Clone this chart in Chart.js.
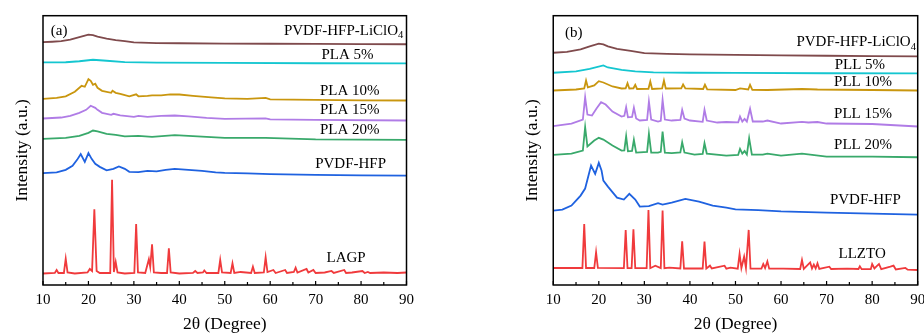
<!DOCTYPE html>
<html>
<head>
<meta charset="utf-8">
<script src="https://cdn.jsdelivr.net/npm/chart.js@4"></script>
<style>
  html, body { margin: 0; padding: 0; background: #fff; overflow: hidden; }
  #wrap { position: relative; width: 924px; height: 333px; }
  canvas { position: absolute; top: 0; }
</style>
</head>
<body>
<div id="wrap">
  <canvas id="chartA" width="420" height="333" style="left:0"></canvas>
  <canvas id="chartB" width="510" height="333" style="left:430px"></canvas>
</div>
<script>
// x axis: 2theta in degrees
const xTicks = [10, 20, 30, 40, 50, 60, 70, 80, 90];
const minorTicks = [15, 25, 35, 45, 55, 65, 75, 85];

// ---- panel (a) ----  [2theta, intensity a.u.]
const aLiClO4 = [[10,242.7],[12,243],[14,243.5],[16,245],[18,247.5],[20,250],[21,249.5],[22,248],[24,246],[26,244.5],[28,243.5],[30,242.3],[35,241.7],[40,241.5],[50,241.2],[60,241],[70,240.8],[80,240.7],[90,240.5]];
const aPla5 = [[10,222.3],[15,222.5],[18,223.5],[21,225],[24,224],[28,222.7],[35,222.2],[50,221.8],[70,221.5],[90,221.3]];
const aPla10 = [[10,186],[13,187],[15,188.5],[17,193],[18.5,199],[19.2,198],[20,205.7],[20.5,204],[21,200],[21.5,201],[22,197],[23,194],[25,192],[25.3,194],[26,192],[27,191],[29,188.5],[30.5,190.5],[31,188.5],[33,189],[34,189.5],[36,189.5],[38,190.5],[40,190.3],[43,189],[47,187.5],[50,186.5],[55,186],[59,187],[60,185.5],[70,185],[80,184.5],[90,184.3]];
const aPla15 = [[10,166.3],[14,167.3],[16,169],[18,172],[19.5,175],[20.5,179],[21.5,177],[22,175],[23,172],[25,170],[25.5,171],[27,169.5],[30,168],[31,169],[33,168],[36,169],[39,169.3],[42,168.5],[46,167],[50,166],[59,166.5],[60,165.5],[70,165],[90,164.3]];
const aPla20 = [[10,146],[15,147],[18,149],[20,152],[21,154.3],[22,153.5],[24,151],[26,150],[28,148.5],[31,149],[34,148],[39,149.7],[44,148.5],[50,147],[59,147],[70,145.5],[90,145]];
const aPvdf = [[10,111.7],[13,112.5],[15,115],[16.5,119],[17.5,125],[18.3,130.7],[19.2,123],[20,131.7],[20.7,126],[21.5,121],[22.5,118],[24,114.5],[25.5,116],[26.7,118.5],[28,116],[29,113],[31,112.7],[33,114],[35,113.5],[37,115],[39,116],[42,115],[45,114],[48,112.5],[50,112],[55,111.5],[60,110.7],[70,110],[80,109.5],[90,109.3]];
const aLagp = [[10,11.5],[12.6,12],[13,15],[13.4,12],[14.6,12],[15,26.3],[15.4,12.5],[17,11.5],[19.8,12.5],[20.3,16],[20.8,14],[21.3,75.7],[21.8,14],[22.5,12],[24.8,12],[25.2,105],[25.6,13],[26,23],[26.4,12.5],[28,11.5],[30.1,12],[30.5,61],[30.9,12.5],[32.5,12],[33.3,25.7],[33.6,18],[34,40.7],[34.4,12.5],[36,12],[37.3,12],[37.7,36.7],[38.1,12.5],[40,11.5],[43,12],[43.5,14],[44,12],[45.2,12.5],[45.5,14.5],[46,12],[48.6,12],[49,25],[49.4,12.5],[51.3,12],[51.7,21.7],[52.1,12],[53.5,13],[55.8,12],[56.2,18.3],[56.6,12],[58.6,12.5],[59,27.7],[59.4,13],[60.7,15],[61.2,12],[63.3,15],[63.7,12],[65.2,13],[65.6,17.3],[66,12.5],[68,16],[68.4,12.5],[69.5,15],[70,12],[72,12.5],[73.5,14],[74,12],[76.3,15],[76.7,12],[78,12.5],[80.3,14],[80.8,12],[81.5,13],[82,12],[85,12.5],[88,12],[90,12.5]];

// ---- panel (b) ----
const bLiClO4 = [[10,232],[13,232.8],[16,235.3],[18,238.3],[20,241],[21,240.3],[22,238.3],[24,235.8],[27,233.8],[30,231.6],[35,230.8],[40,230.3],[50,229.8],[60,229.3],[70,229],[80,228.6],[90,228.3]];
const bPll5 = [[10,212],[15,213.3],[18,215.8],[21,219.3],[22,217.3],[25,214.8],[28,213.3],[32,212.3],[40,212],[50,211.8],[70,211.5],[90,211.3]];
const bPll10 = [[10,194.3],[15,195.3],[16.8,196.3],[17.2,204.3],[17.6,197.3],[19,199.3],[20,203.6],[21,202.3],[23,198.3],[25,196.3],[25.9,196.5],[26.3,201.6],[26.7,196.3],[27.6,196.5],[28,200],[28.4,195.8],[30.9,196],[31.3,203.3],[31.7,195.8],[33.9,196.3],[34.3,204.3],[34.7,196.3],[38.1,196.5],[38.5,200.3],[39,196.3],[42.9,195.8],[43.3,200],[43.8,195.3],[50,194.8],[51,196.3],[52.8,195.3],[53.2,200],[53.7,195],[57,194.8],[64.6,195.8],[68,195.3],[80,194.8],[90,194.3]];
const bPll15 = [[10,158.6],[14,161.3],[16.5,165.3],[17,187.6],[17.5,170.3],[18.5,169.3],[19.5,176.3],[20.5,182.6],[21.5,180.3],[23,173.3],[25,168.3],[25.6,169],[26,177.6],[26.4,167.5],[27.3,168],[27.7,177],[28.2,166.3],[29,164.3],[30.6,165],[31,183.3],[31.5,165.3],[33,163.3],[33.6,164],[34,185],[34.5,165.3],[36,164.3],[37.9,165],[38.3,175],[38.8,166.3],[40,164.3],[42.8,163],[43.2,175],[43.7,164.3],[46,162.3],[48,162.8],[50.6,162.5],[51,168.3],[51.5,163.3],[52,166],[52.5,163.3],[53.2,176],[53.8,163.3],[56,163.3],[57,164.3],[60,161.3],[64.6,163],[66,162.3],[68,162.8],[70,161.3],[80,160.8],[90,158.3]];
const bPll20 = [[10,130],[14,131.3],[16.5,134.3],[17,157.6],[17.5,138.3],[19,144.3],[20,147],[21,145.3],[23,139.3],[25,134.3],[25.6,134.5],[26,148.6],[26.4,133.5],[27.3,134],[27.7,145],[28.2,132.3],[29,132.5],[30.6,133],[31,151],[31.5,132.3],[33,132.3],[33.6,133],[34,153.3],[34.5,132.3],[36,131.8],[37.9,132.5],[38.3,142.6],[38.8,132.3],[41,130.3],[42.8,131],[43.2,141.6],[43.7,131.3],[48,129.3],[50.6,130],[51,136],[51.5,131.3],[52,133.8],[52.5,130.3],[53,146.6],[53.6,130.3],[56,130.3],[57,131.3],[60,129.3],[64.6,131.3],[70,128.3],[80,128.3],[90,127.6]];
const bPvdf = [[10,74.3],[12,75.3],[14,79.3],[15,84.3],[16,89.3],[17,96.3],[18.3,119.3],[19.2,111],[20,122],[20.6,114.3],[21,104.3],[22,98.3],[24,87.3],[25.5,85.3],[26.7,91],[28,85.3],[29,78.3],[31,78.8],[33,81.8],[34,80.3],[36,82.3],[39,86],[42,83.3],[45,79.3],[48,77.3],[50,75.6],[55,74.8],[60,73.6],[70,72.3],[80,71.3],[90,70.3]];
const bLlzto = [[10,17],[16.4,17],[16.8,61],[17.2,17],[19,17],[19.4,32.6],[19.8,17],[25.5,16.8],[25.9,55],[26.3,16.8],[27.2,16.8],[27.6,55.6],[28,16.8],[30.5,16.8],[30.9,75],[31.3,16.8],[32.4,19.3],[33.6,16.8],[34,74.3],[34.4,16.8],[35.5,17.3],[37.9,16.5],[38.3,43.6],[38.7,16.5],[42.8,16.5],[43.2,43.3],[43.6,16.5],[44.4,19.3],[44.8,16.5],[47.6,19.3],[48,16.3],[48.9,17.3],[50.5,16.3],[50.9,31],[51.3,17],[51.9,28.3],[52.3,17],[52.9,55],[53.3,16.3],[55.7,16.3],[56.1,21],[56.5,17],[57,23.6],[57.4,16.3],[60.5,16.3],[64.2,16],[64.6,25],[65,16],[66.4,22.6],[66.8,16.5],[67.2,20.3],[67.6,16.5],[68,21.6],[68.4,16],[70.6,18.3],[71,16],[74.5,16.3],[77,16],[77.3,18.6],[77.7,15.8],[79.7,15.8],[80,21],[80.5,16.5],[81.5,21],[82,15.8],[84,18.3],[84.7,19.3],[85.2,15.5],[87.3,17],[87.8,15.3],[90,15]];

const seriesColors = {
  liclo4: "#7f4a4c",
  c5: "#14c6d0",
  c10: "#c9960e",
  c15: "#b07ce6",
  c20: "#39a96b",
  pvdf: "#1f62e0",
  filler: "#f03a3c"
};

const labelsA = [
  { text: "PVDF-HFP-LiClO", sub: "4", x: 89.3, y: 254, align: "right" },
  { text: "PLA 5%", x: 77, y: 230, align: "center" },
  { text: "PLA 10%", x: 77.5, y: 194, align: "center" },
  { text: "PLA 15%", x: 77.5, y: 174.3, align: "center" },
  { text: "PLA 20%", x: 77.5, y: 155, align: "center" },
  { text: "PVDF-HFP", x: 77.7, y: 120.7, align: "center" },
  { text: "LAGP", x: 76.7, y: 27.3, align: "center" },
  { text: "(a)", x: 11.7, y: 253.3, align: "left" }
];
const labelsB = [
  { text: "PVDF-HFP-LiClO", sub: "4", x: 89.6, y: 242.6, align: "right" },
  { text: "PLL 5%", x: 77.3, y: 219.3, align: "center" },
  { text: "PLL 10%", x: 78, y: 202.6, align: "center" },
  { text: "PLL 15%", x: 78, y: 171, align: "center" },
  { text: "PLL 20%", x: 78, y: 140, align: "center" },
  { text: "PVDF-HFP", x: 78.5, y: 85.3, align: "center" },
  { text: "LLZTO", x: 77.8, y: 31, align: "center" },
  { text: "(b)", x: 12.6, y: 252, align: "left" }
];

const SERIF = "'Liberation Serif', 'Times New Roman', serif";

function toPoints(arr) {
  return arr.map(p => ({ x: p[0], y: p[1] }));
}

function makeDataset(arr, color) {
  return {
    data: toPoints(arr),
    borderColor: color,
    borderWidth: 1.8,
    pointRadius: 0,
    tension: 0,
    fill: false
  };
}

// frame, inward ticks and curve labels
const framePlugin = {
  id: "frame",
  afterDraw(chart, args, opts) {
    const ctx = chart.ctx;
    const a = chart.chartArea;
    const xs = chart.scales.x;
    const ys = chart.scales.y;
    ctx.save();
    ctx.strokeStyle = "#000";
    ctx.lineWidth = 1.5;
    ctx.strokeRect(a.left, a.top, a.right - a.left, a.bottom - a.top);

    ctx.lineWidth = 1.2;
    ctx.beginPath();
    xTicks.forEach(v => {
      const px = xs.getPixelForValue(v);
      ctx.moveTo(px, a.bottom);
      ctx.lineTo(px, a.bottom - 4);
    });
    minorTicks.forEach(v => {
      const px = xs.getPixelForValue(v);
      ctx.moveTo(px, a.bottom);
      ctx.lineTo(px, a.bottom - 3);
    });
    ctx.stroke();

    ctx.fillStyle = "#000";
    ctx.textBaseline = "middle";
    opts.labels.forEach(l => {
      const px = xs.getPixelForValue(l.x);
      const py = ys.getPixelForValue(l.y);
      ctx.font = "15px " + SERIF;
      const w = ctx.measureText(l.text).width;
      let sw = 0;
      if (l.sub) {
        ctx.font = "10.5px " + SERIF;
        sw = ctx.measureText(l.sub).width;
      }
      const total = w + sw;
      let left = px;
      if (l.align === "right") left = px - total;
      if (l.align === "center") left = px - total / 2;
      ctx.textAlign = "left";
      ctx.font = "15px " + SERIF;
      ctx.fillText(l.text, left, py);
      if (l.sub) {
        ctx.font = "10.5px " + SERIF;
        ctx.fillText(l.sub, left + w, py + 5);
      }
    });
    ctx.restore();
  }
};

function makeChart(id, series, labels, padLeft, padRight) {
  return new Chart(document.getElementById(id), {
    type: "line",
    data: {
      datasets: [
        makeDataset(series[0], seriesColors.liclo4),
        makeDataset(series[1], seriesColors.c5),
        makeDataset(series[2], seriesColors.c10),
        makeDataset(series[3], seriesColors.c15),
        makeDataset(series[4], seriesColors.c20),
        makeDataset(series[5], seriesColors.pvdf),
        makeDataset(series[6], seriesColors.filler)
      ]
    },
    options: {
      responsive: false,
      animation: false,
      devicePixelRatio: 1,
      layout: { padding: { left: padLeft, right: padRight, top: 15.7, bottom: 0 } },
      plugins: {
        legend: { display: false },
        tooltip: { enabled: false },
        frame: { labels: labels }
      },
      scales: {
        x: {
          type: "linear",
          min: 10,
          max: 90,
          grid: { display: false, drawTicks: false },
          border: { display: false },
          ticks: {
            stepSize: 10,
            padding: 6,
            color: "#000",
            font: { family: SERIF, size: 15, lineHeight: 1.2 }
          },
          title: {
            display: true,
            text: "2θ (Degree)",
            color: "#000",
            font: { family: SERIF, size: 17.5, lineHeight: 1 },
            padding: { top: 0.5, bottom: 0 }
          }
        },
        y: {
          min: 0,
          max: 269,
          grid: { display: false, drawTicks: false },
          border: { display: false },
          ticks: { display: false },
          title: {
            display: true,
            text: "Intensity (a.u.)",
            color: "#000",
            font: { family: SERIF, size: 17.5, lineHeight: 1 },
            padding: { top: 1.5, bottom: 12.25 }
          }
        }
      }
    },
    plugins: [framePlugin]
  });
}

makeChart("chartA", [aLiClO4, aPla5, aPla10, aPla15, aPla20, aPvdf, aLagp], labelsA, 11.75, 13.3);
makeChart("chartB", [bLiClO4, bPll5, bPll10, bPll15, bPll20, bPvdf, bLlzto], labelsB, 92, 22.3);
</script>
</body>
</html>
